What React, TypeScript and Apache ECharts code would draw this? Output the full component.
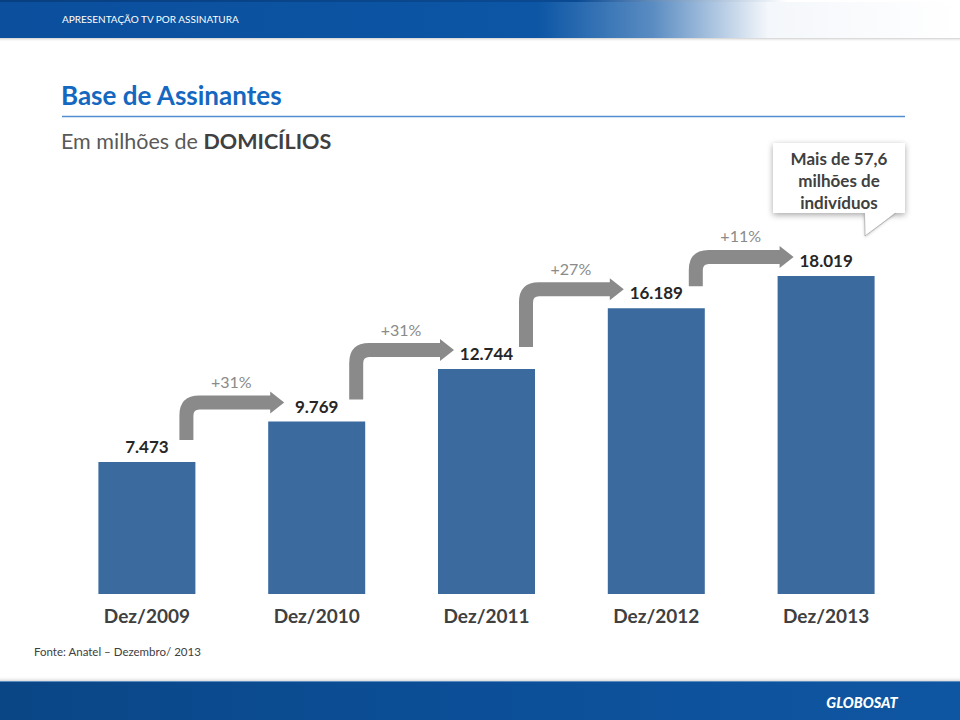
import React, { useEffect, useRef } from "react";
import * as echarts from "echarts";

const categories = ["Dez/2009", "Dez/2010", "Dez/2011", "Dez/2012", "Dez/2013"];
const subscribers = [7.473, 9.769, 12.744, 16.189, 18.019];
const growthLabels = ["+31%", "+31%", "+27%", "+11%"];
const calloutLines = ["Mais de 57,6", "milhões de", "indivíduos"];

const FONT = "Lato, 'Open Sans', sans-serif";

export default function App() {
  const ref = useRef<HTMLDivElement>(null);

  useEffect(() => {
    document.body.style.margin = "0";
    if (!ref.current) return;
    const chart = echarts.init(ref.current, null, { renderer: "svg" });

    const barWidth = 97;
    const half = barWidth / 2;

    const option: any = {
      animation: false,
      backgroundColor: "#ffffff",
      grid: {
        left: 62,
        right: 49,
        top: 241,
        bottom: 126,
        containLabel: false,
        outerBoundsMode: "none",
      },
      xAxis: {
        type: "category",
        data: categories,
        axisLine: { show: false },
        axisTick: { show: false },
        axisLabel: {
          margin: 12,
          color: "#404040",
          fontFamily: FONT,
          fontWeight: "bold",
          fontSize: 19,
        },
      },
      yAxis: {
        type: "value",
        min: 0,
        max: 20,
        show: false,
        splitLine: { show: false },
      },
      series: [
        {
          type: "bar",
          data: subscribers,
          barWidth: barWidth,
          itemStyle: { color: "#3b6a9f" },
          label: {
            show: true,
            position: "top",
            distance: 7,
            color: "#262626",
            fontFamily: FONT,
            fontWeight: "bold",
            fontSize: 17,
            formatter: (p: any) => Number(p.value).toFixed(3),
          },
        },
        {
          type: "custom",
          coordinateSystem: "cartesian2d",
          data: growthLabels.map((_, i) => [i, subscribers[i]]),
          z: 5,
          renderItem: (params: any, api: any) => {
            const i = params.dataIndex;
            const a = api.coord([i, subscribers[i]]);
            const b = api.coord([i + 1, subscribers[i + 1]]);
            const w = 7;
            const R = 20;
            const r = 6;
            const xv = a[0] + half - 9;
            const yb = a[1] - 22;
            const yh = b[1] - 19;
            const xt = b[0] - half + 16;
            const hx = xt - 14;
            const d =
              `M${xv - w} ${yb} L${xv - w} ${yh - w + R} ` +
              `Q${xv - w} ${yh - w} ${xv - w + R} ${yh - w} ` +
              `L${hx} ${yh - w} L${hx} ${yh - 11} L${xt} ${yh} L${hx} ${yh + 11} L${hx} ${yh + w} ` +
              `L${xv + w + r} ${yh + w} Q${xv + w} ${yh + w} ${xv + w} ${yh + w + r} ` +
              `L${xv + w} ${yb} Z`;
            return {
              type: "group",
              children: [
                { type: "path", shape: { pathData: d }, style: { fill: "#8a8a8a" } },
                {
                  type: "text",
                  style: {
                    text: growthLabels[i],
                    x: (xv + xt) / 2 - 4,
                    y: yh - 21,
                    fill: "#8a8a8a",
                    fontFamily: FONT,
                    fontSize: 16,
                    textAlign: "center",
                    textVerticalAlign: "middle",
                  },
                },
              ],
            };
          },
        },
      ],
      graphic: [
        // header band
        {
          type: "rect",
          shape: { x: 0, y: 38, width: 960, height: 4 },
          style: {
            fill: {
              type: "linear", x: 0, y: 0, x2: 0, y2: 1,
              colorStops: [
                { offset: 0, color: "rgba(120,120,120,0.35)" },
                { offset: 1, color: "rgba(255,255,255,0)" },
              ],
            },
          },
          z: 1,
        },
        {
          type: "rect",
          shape: { x: 0, y: 0, width: 960, height: 38 },
          style: {
            fill: {
              type: "linear", x: 0, y: 0, x2: 1, y2: 0,
              colorStops: [
                { offset: 0, color: "#0b4f9d" },
                { offset: 0.56, color: "#0c56a5" },
                { offset: 0.68, color: "#5a8cc2" },
                { offset: 0.8, color: "#f4f7fb" },
                { offset: 1, color: "#ffffff" },
              ],
            },
          },
          z: 2,
        },
        {
          type: "rect",
          shape: { x: 0, y: 0, width: 960, height: 2 },
          style: {
            fill: {
              type: "linear", x: 0, y: 0, x2: 1, y2: 0,
              colorStops: [
                { offset: 0, color: "#083f80" },
                { offset: 0.6, color: "#0a4a92" },
                { offset: 0.82, color: "#ffffff" },
                { offset: 1, color: "#ffffff" },
              ],
            },
          },
          z: 3,
        },
        {
          type: "text",
          style: {
            text: "APRESENTAÇÃO TV POR ASSINATURA",
            x: 62,
            y: 19,
            fill: "#ffffff",
            fontFamily: FONT,
            fontSize: 10,
            textVerticalAlign: "middle",
          },
          z: 4,
        },
        // title
        {
          type: "text",
          style: {
            text: "Base de Assinantes",
            x: 61,
            y: 95,
            fill: "#1468bf",
            fontFamily: FONT,
            fontWeight: "bold",
            fontSize: 26,
            textVerticalAlign: "middle",
          },
        },
        {
          type: "line",
          shape: { x1: 62, y1: 116.5, x2: 905, y2: 116.5 },
          style: { stroke: "#4f8fd0", lineWidth: 1.5 },
        },
        {
          type: "text",
          style: {
            text: "{a|Em milhões de }{b|DOMICÍLIOS}",
            x: 61,
            y: 141,
            textVerticalAlign: "middle",
            rich: {
              a: { fill: "#595959", fontFamily: FONT, fontSize: 21.5 },
              b: { fill: "#404040", fontFamily: FONT, fontSize: 21.5, fontWeight: "bold" },
            },
          },
        },
        // callout
        {
          type: "rect",
          shape: { x: 773, y: 143, width: 132, height: 70 },
          style: {
            fill: "#ffffff",
            shadowBlur: 6,
            shadowColor: "rgba(0,0,0,0.35)",
            shadowOffsetX: 0,
            shadowOffsetY: 2,
          },
          z: 10,
        },
        {
          type: "polygon",
          shape: { points: [[864, 212], [896, 212], [865, 236]] },
          style: {
            fill: "#ffffff",
            shadowBlur: 3,
            shadowColor: "rgba(0,0,0,0.25)",
            shadowOffsetY: 1,
          },
          z: 10,
        },
        {
          type: "rect",
          shape: { x: 773, y: 143, width: 132, height: 70 },
          style: { fill: "#ffffff" },
          z: 11,
        },
        {
          type: "polygon",
          shape: { points: [[864, 211], [896, 211], [865, 236]] },
          style: { fill: "#ffffff" },
          z: 11,
        },
        {
          type: "polyline",
          shape: { points: [[864.5, 213], [865, 236], [896, 213]] },
          style: { stroke: "#b5b5b5", lineWidth: 1, fill: null },
          z: 12,
        },
        {
          type: "text",
          style: {
            text: calloutLines.join("\n"),
            x: 839,
            y: 180,
            fill: "#404040",
            fontFamily: FONT,
            fontWeight: "bold",
            fontSize: 17,
            lineHeight: 22,
            textAlign: "center",
            textVerticalAlign: "middle",
          },
          z: 13,
        },
        // source
        {
          type: "text",
          style: {
            text: "Fonte: Anatel – Dezembro/ 2013",
            x: 34,
            y: 651,
            fill: "#404040",
            fontFamily: FONT,
            fontSize: 11.5,
            textVerticalAlign: "middle",
          },
        },
        // footer band
        {
          type: "rect",
          shape: { x: 0, y: 676, width: 960, height: 5 },
          style: {
            fill: {
              type: "linear", x: 0, y: 0, x2: 0, y2: 1,
              colorStops: [
                { offset: 0, color: "rgba(255,255,255,0)" },
                { offset: 1, color: "rgba(150,150,150,0.35)" },
              ],
            },
          },
        },
        {
          type: "rect",
          shape: { x: 0, y: 681, width: 960, height: 39 },
          style: {
            fill: {
              type: "linear", x: 0, y: 0, x2: 1, y2: 0,
              colorStops: [
                { offset: 0, color: "#0a4686" },
                { offset: 0.5, color: "#0c4f98" },
                { offset: 1, color: "#0f56a2" },
              ],
            },
          },
        },
        {
          type: "line",
          shape: { x1: 0, y1: 681.5, x2: 960, y2: 681.5 },
          style: { stroke: "#5d8cc0", lineWidth: 1 },
        },
        {
          type: "text",
          style: {
            text: "GLOBOSAT",
            x: 862,
            y: 702,
            fill: "#ffffff",
            fontFamily: FONT,
            fontWeight: 900,
            fontStyle: "italic",
            fontSize: 14.5,
            textAlign: "center",
            textVerticalAlign: "middle",
          },
        },
      ],
    };

    chart.setOption(option);
    return () => chart.dispose();
  }, []);

  return <div ref={ref} style={{ width: 960, height: 720 }} />;
}
